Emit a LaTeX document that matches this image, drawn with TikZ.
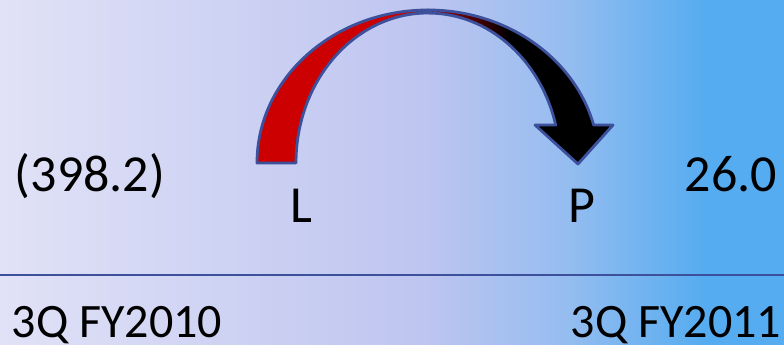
\documentclass[tikz,border=0pt]{standalone}
\usepackage{fontspec}
\setmainfont{Carlito}
\usepackage{xcolor}
\usepackage{tikz}

\definecolor{lavleft}{RGB}{225,226,247}
\definecolor{lavmid}{RGB}{190,197,240}
\definecolor{bluemid}{RGB}{150,189,240}
\definecolor{blueright}{RGB}{85,172,240}
\definecolor{arcred}{RGB}{204,0,0}
\definecolor{arcdark}{RGB}{135,0,0}
\definecolor{rimblue}{RGB}{60,80,155}

\pgfdeclarehorizontalshading{bgshade}{100bp}{color(0bp)=(lavleft); color(25bp)=(lavleft);
  color(52bp)=(lavmid); color(61bp)=(bluemid); color(70bp)=(blueright); color(100bp)=(blueright)}
\pgfdeclarehorizontalshading{tipshade}{100bp}{color(0bp)=(arcdark); color(30bp)=(arcdark);
  color(47bp)=(black); color(100bp)=(black)}

\tikzset{
  figure/.style={inner sep=0pt, anchor=base, font=\fontsize{52}{60}\selectfont},
  period/.style={inner sep=0pt, anchor=base, font=\fontsize{48}{56}\selectfont},
  rim/.style={draw=rimblue, line width=2.8pt, line join=round}
}

\begin{document}
\begin{tikzpicture}[x=1pt,y=1pt]

% centre of the bow
\def\cx{428}
\def\cy{182}

\useasboundingbox (0,0) rectangle (784,345);

% background
\shade[shading=bgshade] (0,0) rectangle (784,345);

% base line
\draw[rimblue, line width=2.8pt] (0,70) -- (784,70);

% red half of the bow
\path[rim, fill=arcred] (\cx-171,\cy)
  arc[start angle=180, end angle=90, x radius=171pt, y radius=153pt]
  -- (\cx,\cy+150)
  arc[start angle=90, end angle=180, x radius=132pt, y radius=150pt] -- cycle;

% dark half with the head
\path[rim, shading=tipshade] (\cx,\cy+153)
  arc[start angle=90, end angle=14.4, x radius=171pt, y radius=153pt]
  -- (613,220) -- (578,181) -- (535,220) -- (555.7,220)
  arc[start angle=14.7, end angle=90, x radius=132pt, y radius=150pt] -- cycle;

% values
\node[figure] (before) at (90,153) {(398.2)};
\node[figure] (after) at (731,153) {26.0};
\node[figure] (loss) at (301,122) {L};
\node[figure] (profit) at (582,122) {P};

% periods
\node[period] (q2010) at (117,7) {3Q FY2010};
\node[period] (q2011) at (676,7) {3Q FY2011};

\end{tikzpicture}
\end{document}
